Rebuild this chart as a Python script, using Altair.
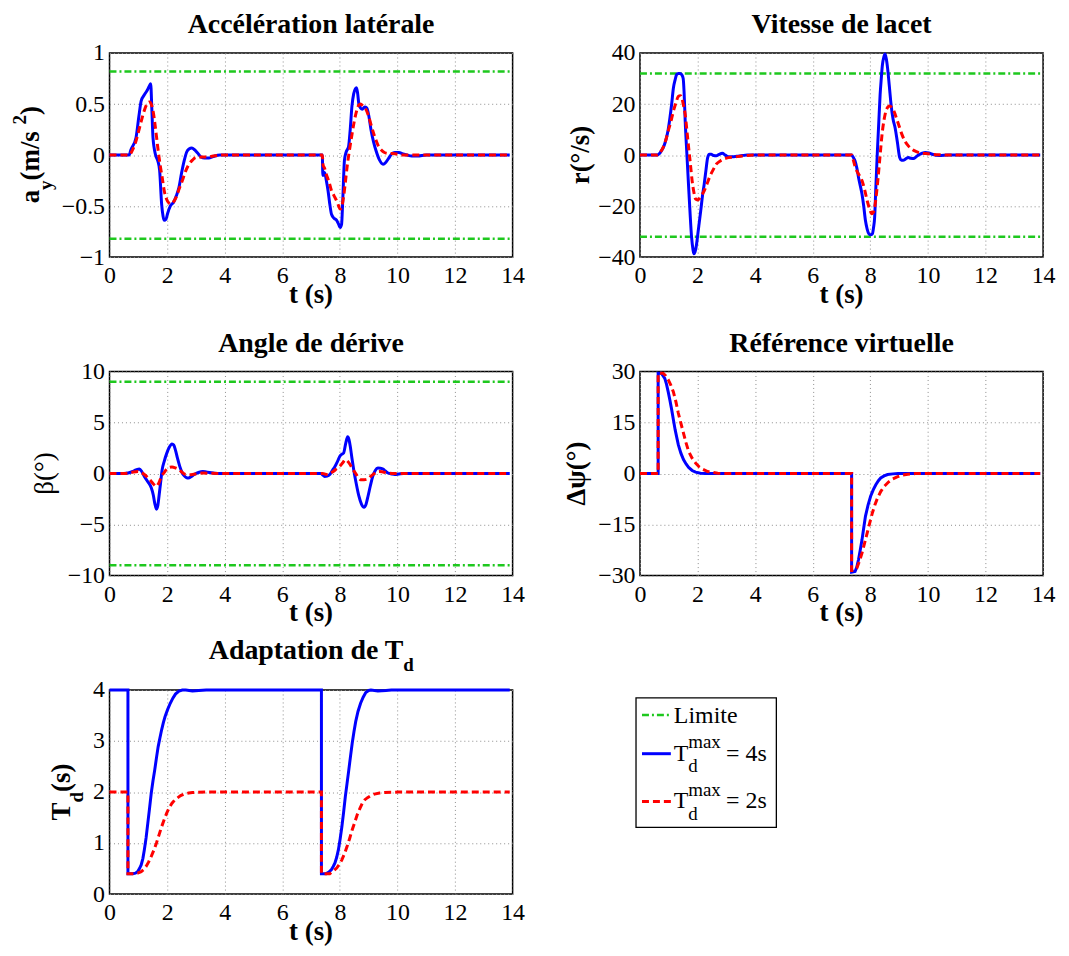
import altair as alt
import pandas as pd

# ---------------- data ----------------
T_END = 13.9
X_TICKS = [0, 2, 4, 6, 8, 10, 12, 14]

AY_LIMIT = 0.82
AY_TICKS = [-1, -0.5, 0, 0.5, 1]
AY_4S = [(0, 0), (0.68, 0), (0.74, 0.05), (0.92, 0.17), (1.02, 0.38), (1.1, 0.53), (1.21, 0.59), (1.32, 0.64),
         (1.39, 0.68), (1.43, 0.70), (1.47, 0.45), (1.51, 0.17), (1.6, 0.0), (1.68, -0.06), (1.74, -0.15),
         (1.81, -0.48), (1.86, -0.6), (1.9, -0.64), (1.96, -0.63), (2.02, -0.57), (2.11, -0.5), (2.23, -0.46),
         (2.32, -0.4), (2.41, -0.32), (2.5, -0.18), (2.59, -0.06), (2.68, 0.03), (2.76, 0.06), (2.86, 0.07),
         (2.96, 0.05), (3.06, 0.02), (3.18, -0.02), (3.3, -0.03), (3.45, -0.03), (3.6, -0.015), (3.84, 0),
         (7.39, 0), (7.41, -0.2), (7.47, -0.17), (7.53, -0.25), (7.59, -0.35), (7.65, -0.48), (7.71, -0.58),
         (7.8, -0.62), (7.89, -0.64), (7.96, -0.68), (8.01, -0.71), (8.06, -0.68), (8.1, -0.45), (8.16, -0.05),
         (8.22, 0.03), (8.3, 0.08), (8.36, 0.25), (8.42, 0.48), (8.48, 0.6), (8.54, 0.65), (8.58, 0.66),
         (8.62, 0.6), (8.66, 0.5), (8.72, 0.46), (8.78, 0.45), (8.86, 0.47), (8.94, 0.46), (9.02, 0.36),
         (9.08, 0.25), (9.17, 0.13), (9.26, 0.04), (9.38, -0.05), (9.5, -0.09), (9.6, -0.07), (9.7, -0.03),
         (9.8, 0.01), (9.91, 0.025), (10.05, 0.025), (10.2, 0.01), (10.33, 0), (10.5, -0.01), (10.7, -0.01),
         (11.0, 0), (T_END, 0)]
AY_2S = [(0, 0), (0.68, 0), (0.8, 0.05), (0.9, 0.12), (1.0, 0.22), (1.1, 0.33), (1.2, 0.43), (1.3, 0.5),
         (1.39, 0.52), (1.46, 0.49), (1.52, 0.42), (1.58, 0.3), (1.64, 0.16), (1.7, 0.02), (1.76, -0.1),
         (1.83, -0.22), (1.9, -0.35), (1.98, -0.43), (2.06, -0.47), (2.14, -0.48), (2.22, -0.46), (2.32, -0.41),
         (2.42, -0.33), (2.53, -0.25), (2.64, -0.16), (2.76, -0.09), (2.88, -0.05), (3.0, -0.025), (3.2, -0.02),
         (3.4, -0.02), (3.6, -0.01), (3.9, 0), (7.39, 0), (7.42, -0.1), (7.47, -0.13), (7.53, -0.19),
         (7.62, -0.26), (7.71, -0.35), (7.8, -0.4), (7.89, -0.45), (7.96, -0.5), (8.01, -0.53), (8.07, -0.5),
         (8.13, -0.41), (8.19, -0.27), (8.25, -0.12), (8.33, 0.04), (8.42, 0.2), (8.5, 0.33), (8.6, 0.45),
         (8.66, 0.49), (8.72, 0.5), (8.8, 0.48), (8.9, 0.45), (9.0, 0.38), (9.08, 0.3), (9.2, 0.19), (9.32, 0.1),
         (9.44, 0.05), (9.55, 0.025), (9.7, 0.015), (9.85, 0.015), (10.15, 0), (T_END, 0)]

R_LIMIT = 32
R_TICKS = [-40, -20, 0, 20, 40]
R_4S = [(0, 0), (0.6, 0), (0.67, 0.5), (0.74, 1.6), (0.83, 3.5), (0.92, 6.8), (0.98, 10), (1.04, 14.6),
        (1.1, 20), (1.16, 26.3), (1.22, 29.5), (1.27, 31.5), (1.33, 32), (1.39, 32), (1.45, 31.5), (1.5, 30),
        (1.53, 25), (1.57, 13.3), (1.63, 0), (1.69, -12.7), (1.74, -23), (1.79, -32), (1.84, -37), (1.87, -38.7),
        (1.91, -38), (1.95, -36), (2.03, -29), (2.11, -21.8), (2.17, -16), (2.23, -11.4), (2.29, -6), (2.35, -1),
        (2.41, 0.3), (2.47, 0.3), (2.56, -0.2), (2.65, -0.3), (2.75, 0.3), (2.86, 0.7), (2.96, 0), (3.06, -0.7),
        (3.2, -0.7), (3.36, -0.5), (3.55, -0.2), (3.72, 0), (7.35, 0), (7.41, -1), (7.47, -2.3), (7.53, -5),
        (7.59, -8.8), (7.65, -12), (7.71, -15.3), (7.77, -20), (7.83, -25.7), (7.89, -29), (7.95, -30.9),
        (8.01, -31.3), (8.07, -30.9), (8.11, -28.5), (8.15, -24.4), (8.19, -13), (8.24, 0.3), (8.29, 12),
        (8.34, 23.7), (8.38, 30), (8.42, 35.4), (8.47, 38.5), (8.51, 39.6), (8.55, 38), (8.6, 34), (8.66, 27),
        (8.72, 19.8), (8.79, 14), (8.86, 10.7), (8.94, 5), (9.02, -1), (9.08, -2), (9.14, -2), (9.23, -1.5),
        (9.32, -1), (9.41, -1.3), (9.5, -1.4), (9.58, -0.8), (9.67, 0), (9.8, 0.7), (9.91, 1), (10.03, 0.8),
        (10.15, 0.3), (10.39, -0.2), (10.7, 0), (T_END, 0)]
R_2S = [(0, 0), (0.6, 0), (0.7, 1), (0.8, 2.9), (0.9, 6), (0.98, 9.4), (1.07, 13), (1.16, 17.2), (1.25, 20.5),
        (1.33, 23), (1.4, 23.3), (1.45, 22.4), (1.51, 19.5), (1.57, 15.9), (1.63, 9.5), (1.69, 2.9), (1.75, -3.5),
        (1.81, -10), (1.87, -14.5), (1.93, -17.2), (2.0, -17.6), (2.05, -17.2), (2.14, -15.8), (2.23, -14),
        (2.32, -11.5), (2.41, -8.8), (2.53, -6), (2.65, -3.6), (2.8, -2.2), (3.0, -1.2), (3.24, -0.8),
        (3.48, -0.5), (3.7, -0.2), (3.95, 0), (7.35, 0), (7.41, -2), (7.47, -4.5), (7.53, -6.2), (7.62, -8),
        (7.71, -10), (7.8, -13.5), (7.89, -17.9), (7.97, -21), (8.05, -23), (8.1, -22.5), (8.15, -20.5),
        (8.21, -15.5), (8.27, -8.8), (8.34, 0), (8.42, 9.4), (8.48, 14), (8.54, 17.2), (8.6, 18.7), (8.66, 19.2),
        (8.74, 18.7), (8.82, 17.2), (8.92, 14), (9.02, 10.7), (9.1, 8), (9.2, 5.5), (9.32, 3.6), (9.44, 2.3),
        (9.6, 1.3), (9.8, 0.7), (10.0, 0.5), (10.15, 0.3), (10.4, 0.1), (10.63, 0), (T_END, 0)]

B_LIMIT = 9
B_TICKS = [-10, -5, 0, 5, 10]
B_4S = [(0, 0), (0.5, 0), (0.65, 0.05), (0.8, 0.2), (0.92, 0.35), (1.04, 0.44), (1.12, 0.2), (1.21, -0.28),
        (1.33, -0.8), (1.45, -1.4), (1.52, -2.1), (1.57, -2.9), (1.63, -3.5), (1.68, -3.1), (1.72, -2.2),
        (1.77, -1.0), (1.83, 0.4), (1.9, 1.2), (1.99, 2.0), (2.08, 2.6), (2.17, 2.9), (2.23, 2.8), (2.29, 2.3),
        (2.36, 1.5), (2.44, 0.7), (2.52, 0.1), (2.59, -0.2), (2.67, -0.4), (2.74, -0.44), (2.84, -0.3),
        (2.94, -0.1), (3.09, 0.1), (3.24, 0.2), (3.36, 0.15), (3.48, 0.1), (3.65, 0.03), (3.84, 0), (7.35, 0),
        (7.41, -0.15), (7.47, -0.28), (7.56, -0.25), (7.65, -0.1), (7.74, 0.3), (7.83, 0.7), (7.92, 1.2),
        (8.0, 1.7), (8.07, 1.9), (8.13, 2.0), (8.2, 2.9), (8.27, 3.6), (8.32, 3.3), (8.36, 2.7), (8.42, 1.5),
        (8.48, 0.4), (8.57, -1.0), (8.66, -2.2), (8.75, -3.0), (8.84, -3.3), (8.91, -3.0), (8.98, -2.2),
        (9.06, -1.2), (9.14, -0.3), (9.23, 0.3), (9.32, 0.54), (9.41, 0.52), (9.5, 0.44), (9.58, 0.25),
        (9.67, 0.05), (9.8, -0.05), (9.91, -0.1), (10.05, -0.05), (10.21, 0), (T_END, 0)]
B_2S = [(0, 0), (0.5, 0), (0.75, 0.1), (0.98, 0.2), (1.1, 0.1), (1.21, -0.1), (1.33, -0.4), (1.45, -0.77),
        (1.55, -1.1), (1.63, -1.26), (1.7, -1.0), (1.76, -0.6), (1.81, -0.28), (1.9, 0.1), (1.99, 0.44),
        (2.08, 0.6), (2.17, 0.64), (2.29, 0.55), (2.41, 0.38), (2.53, 0.1), (2.65, -0.1), (2.76, -0.12),
        (2.88, -0.1), (3.05, -0.02), (3.24, 0.05), (3.5, 0.02), (3.8, 0), (7.41, 0), (7.5, -0.08), (7.59, -0.1),
        (7.68, 0.05), (7.77, 0.2), (7.88, 0.45), (8.0, 0.7), (8.1, 1.05), (8.19, 1.35), (8.27, 1.2),
        (8.36, 0.86), (8.45, 0.4), (8.54, 0.05), (8.63, -0.35), (8.72, -0.6), (8.84, -0.6), (8.96, -0.54),
        (9.08, -0.25), (9.2, 0), (9.29, 0.15), (9.38, 0.2), (9.5, 0.15), (9.67, 0.05), (9.9, 0), (T_END, 0)]

DPSI_TICKS = [-30, -15, 0, 15, 30]
DPSI_4S = [(0, 0), (0.63, 0), (0.63, 29.5), (0.74, 29.5), (0.86, 28), (0.92, 26.3), (0.98, 24), (1.04, 21.5),
           (1.1, 18.8), (1.16, 15.8), (1.22, 12.9), (1.28, 10.5), (1.33, 8.5), (1.42, 6), (1.51, 4.1),
           (1.6, 2.8), (1.69, 1.8), (1.81, 0.9), (1.93, 0.4), (2.1, 0.1), (2.29, 0), (7.35, 0), (7.35, -29),
           (7.47, -28.8), (7.53, -27.5), (7.59, -25.3), (7.65, -22.5), (7.71, -19.5), (7.77, -16), (7.83, -12.6),
           (7.92, -9.3), (8.01, -6.7), (8.1, -4.8), (8.19, -3.3), (8.28, -2.1), (8.36, -1.3), (8.48, -0.7),
           (8.6, -0.3), (8.78, -0.1), (8.96, 0), (T_END, 0)]
DPSI_2S = [(0, 0), (0.63, 0), (0.63, 29.5), (0.8, 29.5), (0.89, 28.8), (0.98, 27.6), (1.07, 26), (1.16, 24),
           (1.25, 21), (1.33, 17.8), (1.42, 14.8), (1.51, 11.9), (1.6, 9), (1.69, 6.5), (1.81, 4.5), (1.93, 3.1),
           (2.05, 2.0), (2.17, 1.3), (2.35, 0.6), (2.53, 0.3), (2.7, 0.1), (2.88, 0), (7.35, 0), (7.35, -28.5),
           (7.45, -28.5), (7.53, -27.8), (7.62, -25.8), (7.71, -23.4), (7.8, -20.5), (7.89, -17.5),
           (7.98, -14.5), (8.07, -11.6), (8.16, -9.2), (8.25, -7.2), (8.36, -5.3), (8.48, -3.8), (8.63, -2.5),
           (8.78, -1.6), (8.93, -1.0), (9.08, -0.5), (9.3, -0.2), (9.56, 0), (T_END, 0)]

TD_TICKS = [0, 1, 2, 3, 4]
TD_4S = [(0, 4), (0.64, 4), (0.64, 0.4), (0.8, 0.4), (0.9, 0.41), (0.98, 0.44), (1.04, 0.5), (1.1, 0.57),
         (1.16, 0.7), (1.21, 0.87), (1.27, 1.1), (1.33, 1.39), (1.39, 1.68), (1.45, 1.98), (1.51, 2.22),
         (1.57, 2.43), (1.63, 2.67), (1.69, 2.89), (1.75, 3.06), (1.81, 3.22), (1.87, 3.36), (1.93, 3.48),
         (2.02, 3.62), (2.11, 3.74), (2.2, 3.84), (2.29, 3.92), (2.41, 3.98), (2.53, 4.0), (2.65, 4.0),
         (2.88, 3.98), (3.1, 3.99), (3.36, 4), (7.36, 4), (7.36, 0.4), (7.53, 0.4), (7.62, 0.43), (7.71, 0.48),
         (7.77, 0.54), (7.83, 0.61), (7.89, 0.72), (7.95, 0.87), (8.01, 1.08), (8.07, 1.32), (8.13, 1.6),
         (8.19, 1.91), (8.25, 2.17), (8.31, 2.43), (8.37, 2.7), (8.43, 2.96), (8.49, 3.18), (8.55, 3.38),
         (8.63, 3.58), (8.72, 3.74), (8.81, 3.86), (8.9, 3.95), (9.0, 3.99), (9.08, 4.0), (9.32, 3.98),
         (9.6, 3.99), (9.79, 4), (T_END, 4)]
TD_2S = [(0, 2), (0.64, 2), (0.64, 0.4), (0.86, 0.4), (0.98, 0.41), (1.1, 0.44), (1.19, 0.48), (1.27, 0.54),
         (1.36, 0.63), (1.45, 0.74), (1.54, 0.86), (1.63, 1.0), (1.72, 1.16), (1.81, 1.32), (1.9, 1.46),
         (1.99, 1.59), (2.08, 1.7), (2.17, 1.78), (2.26, 1.84), (2.35, 1.88), (2.47, 1.93), (2.59, 1.96),
         (2.75, 1.98), (2.88, 1.99), (3.36, 2), (7.36, 2), (7.36, 0.4), (7.65, 0.4), (7.77, 0.45), (7.89, 0.51),
         (7.98, 0.58), (8.07, 0.67), (8.16, 0.79), (8.25, 0.93), (8.34, 1.09), (8.43, 1.26), (8.52, 1.41),
         (8.6, 1.55), (8.69, 1.67), (8.78, 1.78), (8.87, 1.85), (8.96, 1.89), (9.08, 1.93), (9.2, 1.96),
         (9.38, 1.98), (9.56, 1.99), (10.03, 2), (T_END, 2)]

# ---------------- styling ----------------
FONT = "Liberation Serif"
W, H = 405, 205
BLUE, RED, GREEN = "#0000ff", "#ff0000", "#1ec81e"
TITLE_SIZE, LABEL_SIZE, TICK_SIZE, SUB_SIZE = 28, 27, 24, 19

# Times-compatible advance widths (em)
BOLD_W = {" ": .25, "(": .333, ")": .333, "/": .278, "2": .5, "T": .667, "a": .5, "d": .556,
          "m": .833, "s": .389, "y": .5}


def text_width(s, size):
    return sum(BOLD_W.get(c, .5) for c in s) * size


def txt(s, x, y, size, bold=False, angle=0, align="left", baseline="alphabetic"):
    props = dict(text=s, font=FONT, fontSize=size, align=align, baseline=baseline, color="black")
    if bold:
        props["fontWeight"] = "bold"
    if angle:
        props["angle"] = angle
    return alt.Chart(alt.Data(values=[{}])).mark_text(**props).encode(x=alt.value(x), y=alt.value(y))


def vtitle(parts, xbase, ystart):
    out, y = [], ystart
    for s, size, shift in parts:
        out.append(txt(s, xbase + shift, y, size, bold=True, angle=270, align="left"))
        y -= text_width(s, size)
    return out


def frame(pts):
    df = pd.DataFrame(pts, columns=["t", "v"])
    df["i"] = range(len(df))
    return df


def panel(blue, red, ydom, yticks, limit, extra, smooth):
    xenc = alt.X("t:Q", scale=alt.Scale(domain=[0, 14], nice=False, zero=False),
                 axis=alt.Axis(values=X_TICKS, title=None, labelFlush=False, labelOverlap=False,
                               labelFont=FONT, labelFontSize=TICK_SIZE,
                               labelBaseline="alphabetic", labelPadding=26))
    yenc = alt.Y("v:Q", scale=alt.Scale(domain=ydom, nice=False, zero=False),
                 axis=alt.Axis(values=yticks, title=None, format=".6~g", labelOverlap=False,
                               labelFont=FONT, labelFontSize=TICK_SIZE, labelPadding=5))
    interp = "monotone" if smooth else "linear"
    layers = []
    if limit is not None:
        lim = pd.DataFrame({"t": [0, T_END, 0, T_END], "v": [limit, limit, -limit, -limit],
                            "k": ["u", "u", "l", "l"]})
        layers.append(alt.Chart(lim).mark_line(color=GREEN, strokeWidth=2.5, strokeDash=[7, 3, 2, 3])
                      .encode(x=xenc, y=yenc, detail="k:N"))
    layers.append(alt.Chart(frame(blue)).mark_line(color=BLUE, strokeWidth=3, interpolate=interp)
                  .encode(x=xenc, y=yenc, order="i:Q"))
    layers.append(alt.Chart(frame(red)).mark_line(color=RED, strokeWidth=3, strokeDash=[7, 4], interpolate=interp)
                  .encode(x=xenc, y=yenc, order="i:Q"))
    layers.append(txt("t (s)", W / 2, H + 46, LABEL_SIZE, bold=True, align="center"))
    layers += extra
    return alt.layer(*layers).properties(width=W, height=H)


TY = -20
p1 = panel(AY_4S, AY_2S, [-1, 1], AY_TICKS, AY_LIMIT,
           [txt("Accélération latérale", W / 2, TY, TITLE_SIZE, bold=True, align="center")] +
           vtitle([("a", LABEL_SIZE, 0), ("y", SUB_SIZE, 13), (" (m/s", LABEL_SIZE, 0),
                   ("2", SUB_SIZE, -13), (")", LABEL_SIZE, 0)], -71, 151), True)
p2 = panel(R_4S, R_2S, [-40, 40], R_TICKS, R_LIMIT,
           [txt("Vitesse de lacet", W / 2, TY, TITLE_SIZE, bold=True, align="center"),
            txt("r(°/s)", -51, H / 2, LABEL_SIZE, bold=True, angle=270, align="center")], True)
p3 = panel(B_4S, B_2S, [-10, 10], B_TICKS, B_LIMIT,
           [txt("Angle de dérive", W / 2, TY, TITLE_SIZE, bold=True, align="center"),
            txt("β(°)", -57, H / 2, LABEL_SIZE, bold=False, angle=270, align="center")], True)
p4 = panel(DPSI_4S, DPSI_2S, [-30, 30], DPSI_TICKS, None,
           [txt("Référence virtuelle", W / 2, TY, TITLE_SIZE, bold=True, align="center"),
            txt("Δψ(°)", -55, H / 2, LABEL_SIZE, bold=True, angle=270, align="center")], False)

t5_main = 7.001 * TITLE_SIZE
t5_total = t5_main + .556 * SUB_SIZE
t5_split = W / 2 - t5_total / 2 + t5_main
p5 = panel(TD_4S, TD_2S, [0, 4], TD_TICKS, None,
           [txt("Adaptation de T", t5_split, -31, TITLE_SIZE, bold=True, align="right"),
            txt("d", t5_split, -19.5, SUB_SIZE, bold=True, align="left")] +
           vtitle([("T", LABEL_SIZE, 0), ("d", SUB_SIZE, 13), ("(s)", LABEL_SIZE, 0)], -39.5, 131), False)

blank = alt.Data(values=[{}])
leg_layers = [
    alt.Chart(blank).mark_rect(fill="white", stroke="black", strokeWidth=1.3)
    .encode(x=alt.value(-4), x2=alt.value(137), y=alt.value(8), y2=alt.value(138)),
    alt.Chart(blank).mark_rule(color=GREEN, strokeWidth=2.5, strokeDash=[7, 3, 2, 3])
    .encode(x=alt.value(2), x2=alt.value(31), y=alt.value(25)),
    alt.Chart(blank).mark_rule(color=BLUE, strokeWidth=3)
    .encode(x=alt.value(2), x2=alt.value(31), y=alt.value(64)),
    alt.Chart(blank).mark_rule(color=RED, strokeWidth=3, strokeDash=[7, 4])
    .encode(x=alt.value(2), x2=alt.value(31), y=alt.value(112)),
    txt("Limite", 34, 33, TICK_SIZE),
    txt("T", 34, 71, TICK_SIZE), txt("max", 48.5, 58.5, SUB_SIZE), txt("d", 48.5, 82.5, SUB_SIZE),
    txt("= 4s", 86.5, 71, TICK_SIZE),
    txt("T", 34, 119, TICK_SIZE), txt("max", 48.5, 106, SUB_SIZE), txt("d", 48.5, 130.5, SUB_SIZE),
    txt("= 2s", 86.5, 119, TICK_SIZE),
]
leg = alt.layer(*leg_layers).properties(width=W, height=H, view=alt.ViewBackground(stroke="transparent"))

chart = (
    alt.concat(p1, p2, p3, p4, p5, leg, columns=2, spacing={"row": 115, "column": 128}, bounds="flush")
    .configure_view(stroke="black", strokeWidth=1.5)
    .configure_axis(labelFont=FONT, labelFontSize=TICK_SIZE, labelColor="black", grid=True,
                    gridColor="#8c8c8c", gridDash=[1, 3], gridWidth=1, domain=False, ticks=False, tickSize=0)
    .properties(padding={"left": 2, "top": 0, "right": 5, "bottom": 5}, background="white")
)

chart.save("out.html", embed_options={"renderer": "svg", "actions": False})
